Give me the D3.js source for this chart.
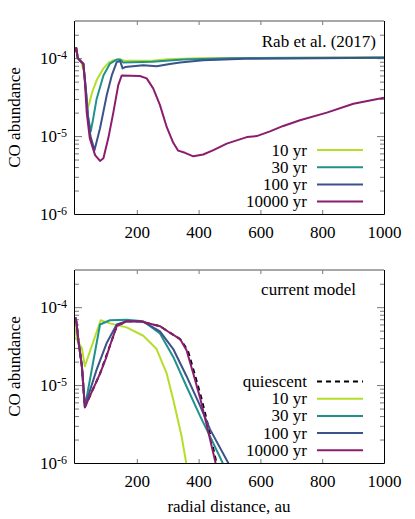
<!DOCTYPE html>
<html>
<head>
<meta charset="utf-8">
<script src="https://cdn.jsdelivr.net/npm/d3@7"></script>
<style>
  body { margin: 0; background: #fff; }
  svg { display: block; font-family: "Liberation Serif", "DejaVu Serif", serif; }
</style>
</head>
<body>
<div id="chart"></div>
<script>
// --- data (radial distance au, CO abundance) ---
const xTickValues = [200, 400, 600, 800, 1000];
const yMajorTicks = [1e-6, 1e-5, 1e-4];
const seriesNames = ["10 yr", "30 yr", "100 yr", "10000 yr"];
const seriesColors = ["#b5de2b", "#21918c", "#3b528b", "#8b1d6e"];

// upper panel: Rab et al. (2017)
const rab10 = [[1,1.2e-4],[4,1.35e-4],[9,1.0e-4],[20,9.0e-5],[30,6.5e-5],[40,2.3e-5],[46,2.6e-5],[55,3.6e-5],[70,5.2e-5],[92,7.4e-5],[110,8.8e-5],[124,9.4e-5],[146,9.6e-5],[160,9.3e-5],[250,9.3e-5],[300,9.7e-5],[400,1.0e-4],[1000,1.02e-4]];
const rab30 = [[1,1.2e-4],[4,1.35e-4],[9,1.0e-4],[20,9.0e-5],[27,8.5e-5],[35,4e-5],[42,1.8e-5],[51,1.15e-5],[58,1.6e-5],[70,3.0e-5],[92,6e-5],[113,8.5e-5],[135,9.6e-5],[146,9.6e-5],[156,8.8e-5],[250,9.0e-5],[350,9.6e-5],[500,1.0e-4],[1000,1.02e-4]];
const rab100 = [[1,1.2e-4],[4,1.35e-4],[9,1.0e-4],[20,9.0e-5],[27,8.5e-5],[35,4e-5],[42,1.8e-5],[50,1.0e-5],[63,6.6e-6],[81,1.26e-5],[103,3.4e-5],[119,6e-5],[135,8.9e-5],[146,9.2e-5],[154,7.4e-5],[162,7.7e-5],[221,8.1e-5],[264,7.9e-5],[307,8.4e-5],[340,8.8e-5],[415,9.4e-5],[550,9.8e-5],[1000,1.01e-4]];
const rab10000 = [[1,1.2e-4],[4,1.35e-4],[9,1.0e-4],[20,9.0e-5],[27,8.5e-5],[32,5e-5],[38,2.0e-5],[48,9.3e-6],[65,5.7e-6],[81,4.8e-6],[92,5.2e-6],[108,9.5e-6],[124,2.0e-5],[140,4.5e-5],[151,6.0e-5],[210,5.9e-5],[232,5.5e-5],[253,4.1e-5],[275,2.5e-5],[297,1.3e-5],[318,8.2e-6],[334,6.5e-6],[356,6.1e-6],[383,5.5e-6],[415,5.8e-6],[448,6.6e-6],[491,8.0e-6],[556,9.7e-6],[588,1.0e-5],[631,1.15e-5],[674,1.35e-5],[728,1.6e-5],[815,2.0e-5],[901,2.6e-5],[1000,3.1e-5]];

// lower panel: current model
const curQuiescent = [[1,7.4e-5],[5,6.3e-5],[11,3.7e-5],[22,1.8e-5],[32,5.2e-6],[50,7.5e-6],[81,1.4e-5],[113,3.2e-5],[135,5.7e-5],[167,6.6e-5],[210,6.6e-5],[275,5.7e-5],[307,4.7e-5],[340,3.9e-5],[365,2.8e-5],[387,1.4e-5],[409,6.8e-6],[430,3.1e-6],[458,1.0e-6],[470,6e-7]];
const cur10 = [[1,7.4e-5],[5,3.9e-5],[22,3.0e-5],[32,1.75e-5],[83,6.8e-5],[113,6.2e-5],[167,5.5e-5],[221,4.3e-5],[264,2.9e-5],[297,1.4e-5],[318,6.5e-6],[345,2.2e-6],[360,1.0e-6],[370,7e-7]];
const cur30 = [[1,7.4e-5],[5,6.3e-5],[11,3.7e-5],[22,1.8e-5],[32,5.2e-6],[81,6.0e-5],[113,6.8e-5],[167,6.9e-5],[221,6.6e-5],[275,4.6e-5],[318,2.3e-5],[361,9.6e-6],[405,4.0e-6],[437,2.2e-6],[478,1.0e-6],[490,8e-7]];
const cur100 = [[1,7.4e-5],[5,6.3e-5],[11,3.7e-5],[22,1.8e-5],[32,5.3e-6],[70,1.58e-5],[103,3.5e-5],[135,6.0e-5],[167,6.6e-5],[221,6.5e-5],[275,4.9e-5],[318,2.9e-5],[361,1.3e-5],[405,5.4e-6],[437,2.7e-6],[496,1.0e-6],[510,8e-7]];
const cur10000 = [[1,7.4e-5],[5,6.3e-5],[11,3.7e-5],[22,1.8e-5],[32,5.2e-6],[50,7.5e-6],[81,1.4e-5],[100,2.2e-5],[113,3.2e-5],[135,5.7e-5],[167,6.6e-5],[210,6.6e-5],[275,5.7e-5],[307,4.7e-5],[340,3.9e-5],[361,2.8e-5],[383,1.4e-5],[405,6.8e-6],[426,3.1e-6],[455,1.0e-6],[470,6e-7]];

const width = 415, height = 519;
const svg = d3.select("#chart").append("svg")
  .attr("width", width).attr("height", height);

const x = d3.scaleLinear().domain([0, 1000]).range([75, 384]);

// minor ticks 2..9 x 10^n
const yMinorTicks = [];
[1e-6, 1e-5, 1e-4].forEach(b => {
  for (let k = 2; k <= 9; k++) if (b * k <= 3e-4) yMinorTicks.push(b * k);
});

function drawPanel(opts) {
  const y = d3.scaleLog().domain([1e-6, 3e-4]).range([opts.bottom, opts.top]);
  const g = svg.append("g");
  const tickColor = "#777";

  // y axis left (labels + inward ticks)
  const yl = g.append("g").attr("transform", "translate(75,0)")
    .call(d3.axisLeft(y).tickValues(yMajorTicks).tickSizeInner(-7).tickSizeOuter(0).tickPadding(8).tickFormat(() => ""));
  yl.selectAll("text").each(function (d) {
    const t = d3.select(this).attr("font-size", "17px").attr("fill", "#000")
      .attr("font-family", "Liberation Serif, serif");
    t.text("10");
    t.append("tspan").attr("dy", "-0.42em").attr("font-size", "12px").text(String(Math.round(Math.log10(d))));
  });
  g.append("g").attr("transform", "translate(75,0)")
    .call(d3.axisLeft(y).tickValues(yMinorTicks).tickSizeInner(-4).tickSizeOuter(0).tickFormat(""));
  // y axis right mirror
  g.append("g").attr("transform", "translate(384,0)")
    .call(d3.axisRight(y).tickValues(yMajorTicks).tickSizeInner(-7).tickSizeOuter(0).tickFormat(""));
  g.append("g").attr("transform", "translate(384,0)")
    .call(d3.axisRight(y).tickValues(yMinorTicks).tickSizeInner(-4).tickSizeOuter(0).tickFormat(""));

  // x axis bottom + top mirror
  const xb = g.append("g").attr("transform", `translate(0,${opts.bottom})`)
    .call(d3.axisBottom(x).tickValues(xTickValues).tickSizeInner(-4).tickSizeOuter(0).tickPadding(12)
      .tickFormat(d3.format("d")));
  xb.selectAll("text").attr("font-size", "17px").attr("fill", "#000")
    .attr("font-family", "Liberation Serif, serif");
  g.append("g").attr("transform", `translate(0,${opts.top})`)
    .call(d3.axisTop(x).tickValues(xTickValues).tickSizeInner(-4).tickSizeOuter(0).tickFormat(""));

  g.selectAll(".domain").remove();
  g.selectAll(".tick line").attr("stroke", tickColor);

  // curves
  const clipId = "clip" + opts.top;
  svg.append("clipPath").attr("id", clipId).append("rect")
    .attr("x", 75).attr("y", opts.top).attr("width", 309).attr("height", opts.bottom - opts.top);
  const line = d3.line().x(d => x(d[0])).y(d => y(d[1]));
  const plot = g.append("g").attr("clip-path", `url(#${clipId})`);
  opts.series.forEach(s => {
    plot.append("path").datum(s.data)
      .attr("fill", "none").attr("stroke", s.color).attr("stroke-width", 2)
      .attr("stroke-dasharray", s.dash || null)
      .attr("stroke-linejoin", "round")
      .attr("d", line);
  });

  // frame
  g.append("line").attr("x1", 75).attr("x2", 384).attr("y1", opts.top).attr("y2", opts.top)
    .attr("stroke", "#8a8a8a").attr("stroke-width", 1.6);
  g.append("path")
    .attr("d", `M384.5,${opts.top} V${opts.bottom + 0.5} H74.5 V${opts.top}`)
    .attr("fill", "none").attr("stroke", "#000").attr("stroke-width", 1);

  // y axis title
  g.append("text")
    .attr("transform", `translate(20,${(opts.top + opts.bottom) / 2}) rotate(-90)`)
    .attr("text-anchor", "middle").attr("font-size", "17px")
    .text("CO abundance");

  // annotation
  g.append("text").attr("x", opts.noteX).attr("y", opts.noteY)
    .attr("text-anchor", "end").attr("font-size", "17px").text(opts.note);

  // legend
  const leg = g.append("g");
  opts.legend.forEach((s, i) => {
    const ly = opts.legendY + i * 17.2;
    leg.append("text").attr("x", 307).attr("y", ly + 5.5)
      .attr("text-anchor", "end").attr("font-size", "17px").text(s.name);
    leg.append("line").attr("x1", 317).attr("x2", 363).attr("y1", ly).attr("y2", ly)
      .attr("stroke", s.color).attr("stroke-width", 2)
      .attr("stroke-dasharray", s.dash || null);
  });
}

const rabSeries = [rab10, rab30, rab100, rab10000].map((d, i) =>
  ({ name: seriesNames[i], color: seriesColors[i], data: d }));

drawPanel({
  top: 21, bottom: 214,
  series: rabSeries,
  legend: rabSeries, legendY: 150,
  note: "Rab et al. (2017)", noteX: 376, noteY: 47
});

const quiescent = { name: "quiescent", color: "#000", dash: "5,4", data: curQuiescent };
const curSeries = [cur10, cur30, cur100, cur10000].map((d, i) =>
  ({ name: seriesNames[i], color: seriesColors[i], data: d }));

drawPanel({
  top: 270, bottom: 463,
  series: [quiescent].concat(curSeries),
  legend: [quiescent].concat(curSeries), legendY: 381.5,
  note: "current model", noteX: 356, noteY: 295
});

svg.append("text").attr("x", 229).attr("y", 512)
  .attr("text-anchor", "middle").attr("font-size", "17px")
  .text("radial distance, au");
</script>
</body>
</html>
